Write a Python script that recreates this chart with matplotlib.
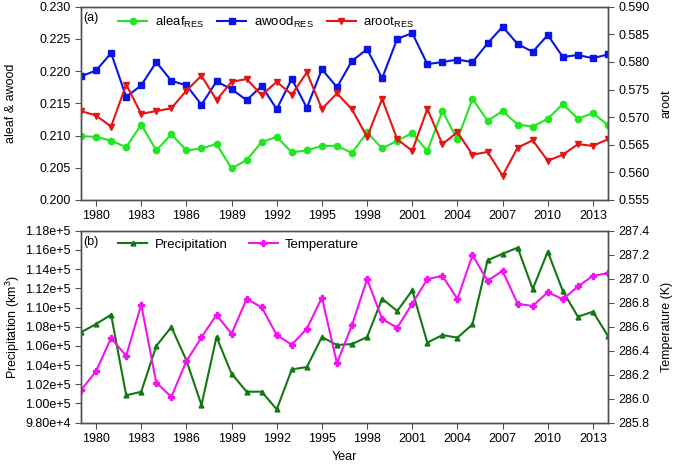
import matplotlib
matplotlib.use("Agg")
import matplotlib.pyplot as plt
from matplotlib.ticker import FuncFormatter

plt.rcParams['font.family'] = ['Liberation Sans', 'DejaVu Sans']

years = list(range(1979, 2015))

aleaf = [0.2099, 0.2098, 0.2092, 0.2082, 0.2117, 0.2077, 0.2102, 0.2077, 0.2080, 0.2087,
         0.2049, 0.2062, 0.2090, 0.2098, 0.2074, 0.2077, 0.2084, 0.2084, 0.2073, 0.2105,
         0.2080, 0.2092, 0.2104, 0.2076, 0.2138, 0.2094, 0.2157, 0.2123, 0.2138, 0.2117,
         0.2114, 0.2126, 0.2149, 0.2126, 0.2135, 0.2116]
awood = [0.2192, 0.2201, 0.2228, 0.2160, 0.2178, 0.2214, 0.2185, 0.2178, 0.2148, 0.2184,
         0.2172, 0.2155, 0.2177, 0.2141, 0.2188, 0.2143, 0.2203, 0.2175, 0.2216, 0.2234,
         0.2189, 0.2250, 0.2259, 0.2211, 0.2214, 0.2218, 0.2214, 0.2243, 0.2269, 0.2242,
         0.2230, 0.2256, 0.2222, 0.2225, 0.2220, 0.2226]
aroot = [0.5711, 0.5703, 0.5683, 0.5759, 0.5706, 0.5711, 0.5716, 0.5748, 0.5775, 0.5731,
         0.5764, 0.5769, 0.5740, 0.5764, 0.5741, 0.5781, 0.5715, 0.5743, 0.5714, 0.5664,
         0.5733, 0.5660, 0.5639, 0.5715, 0.5651, 0.5673, 0.5632, 0.5637, 0.5594, 0.5645,
         0.5658, 0.5621, 0.5632, 0.5651, 0.5648, 0.5660]

precip = [107410, 108278, 109250, 100847, 101229, 105986, 107965, 104493, 99840, 106924,
          103104, 101229, 101229, 99389, 103556, 103799, 106924, 106090, 106194, 106924,
          110917, 109632, 111785, 106333, 107132, 106854, 108243, 114910, 115604, 116229,
          111924, 115813, 111715, 109042, 109563, 107028]
temp = [286.070, 286.229, 286.505, 286.357, 286.784, 286.134, 286.015, 286.313, 286.511, 286.698,
        286.541, 286.831, 286.762, 286.530, 286.450, 286.583, 286.843, 286.296, 286.614, 286.996,
        286.664, 286.592, 286.792, 286.996, 287.024, 286.831, 287.197, 286.982, 287.066, 286.790,
        286.773, 286.887, 286.829, 286.935, 287.024, 287.046]

xticks = list(range(1980, 2014, 3))

fig = plt.figure(figsize=(6.75, 4.68), dpi=100)
left, right = 81/675, 608/675
ax1 = fig.add_axes([left, 1-200/468, right-left, (200-6.7)/468])
ax2 = fig.add_axes([left, 1-422.7/468, right-left, (422.7-230.7)/468])

fs = 9
spine_col = '#505050'

def style(ax):
    for s in ax.spines.values():
        s.set_color(spine_col)
        s.set_linewidth(1.0)
    ax.tick_params(direction='out', length=4, width=0.8, color=spine_col, labelsize=fs)

# Panel (a)
l1, = ax1.plot(years, aleaf, color='#22e622', marker='o', ms=4.5, lw=1.5, label='aleaf$_{\\mathregular{RES}}$')
l2, = ax1.plot(years, awood, color='#0a14e6', marker='s', ms=4.5, lw=1.5, label='awood$_{\\mathregular{RES}}$')
ax1r = ax1.twinx()
l3, = ax1r.plot(years, aroot, color='#e61414', marker='v', ms=5, lw=1.5, label='aroot$_{\\mathregular{RES}}$')
ax1.set_xlim(1979, 2014)
ax1.set_ylim(0.200, 0.230)
ax1r.set_ylim(0.555, 0.590)
ax1.set_yticks([0.200, 0.205, 0.210, 0.215, 0.220, 0.225, 0.230])
ax1r.set_yticks([0.555, 0.560, 0.565, 0.570, 0.575, 0.580, 0.585, 0.590])
ax1.yaxis.set_major_formatter(FuncFormatter(lambda v, p: f"{v:.3f}"))
ax1r.yaxis.set_major_formatter(FuncFormatter(lambda v, p: f"{v:.3f}"))
ax1.set_xticks(xticks)
ax1.set_ylabel('aleaf & awood', fontsize=fs)
ax1r.set_ylabel('aroot', fontsize=fs)
style(ax1); style(ax1r)
ax1.text(0.005, 0.975, '(a)', transform=ax1.transAxes, fontsize=fs, va='top', ha='left')
ax1.legend(handles=[l1, l2, l3], loc='upper left', bbox_to_anchor=(0.056, 1.0), borderaxespad=0.2, ncol=3,
           frameon=False, fontsize=fs+0.5, handlelength=2.2, columnspacing=1.0, handletextpad=0.55)

# Panel (b)
p1, = ax2.plot(years, precip, color='#127812', marker='^', ms=3.5, lw=1.5, label='Precipitation')
ax2r = ax2.twinx()
p2, = ax2r.plot(years, temp, color='#f014f0', marker='P', ms=5, lw=1.5, label='Temperature')
ax2.set_xlim(1979, 2014)
ax2.set_ylim(98000, 118000)
ax2r.set_ylim(285.8, 287.4)
ax2.set_yticks(list(range(98000, 118001, 2000)))
ax2r.set_yticks([285.8, 286.0, 286.2, 286.4, 286.6, 286.8, 287.0, 287.2, 287.4])

def sci(v, p):
    s = f"{v:.2e}"
    mant, ex = s.split('e')
    return f"{mant}e+{int(ex)}"
ax2.yaxis.set_major_formatter(FuncFormatter(sci))
ax2r.yaxis.set_major_formatter(FuncFormatter(lambda v, p: f"{v:.1f}"))
ax2.set_xticks(xticks)
ax2.set_ylabel('Precipitation (km$^{\\mathregular{3}}$)', fontsize=fs)
ax2r.set_ylabel('Temperature (K)', fontsize=fs)
ax2.set_xlabel('Year', fontsize=fs)
style(ax2); style(ax2r)
ax2.text(0.005, 0.975, '(b)', transform=ax2.transAxes, fontsize=fs, va='top', ha='left')
ax2.legend(handles=[p1, p2], loc='upper left', bbox_to_anchor=(0.056, 1.0), borderaxespad=0.2, ncol=2,
           frameon=False, fontsize=fs+0.5, handlelength=2.2, columnspacing=1.6, handletextpad=0.55)

ax1.yaxis.set_label_coords(-0.122, 0.5)
ax2.yaxis.set_label_coords(-0.112, 0.5)
ax1r.yaxis.set_label_coords(1.1, 0.5)
ax2r.yaxis.set_label_coords(1.1, 0.5)

fig.savefig('out.png', dpi=100)
